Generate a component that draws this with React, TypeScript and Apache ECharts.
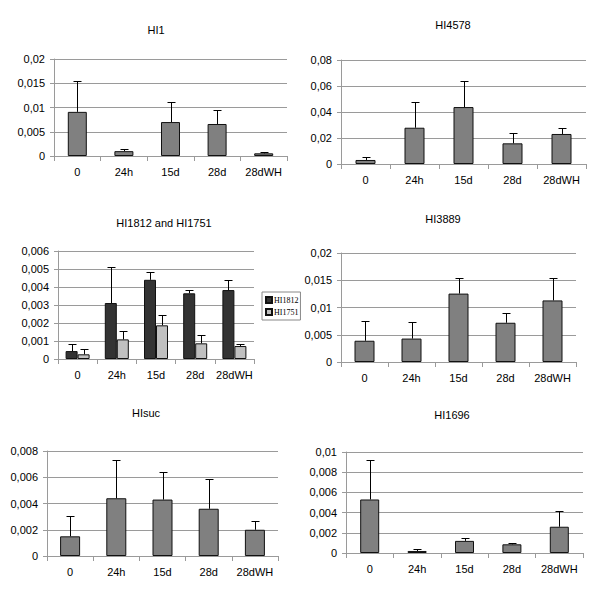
import React, { useEffect, useRef } from 'react';
import * as echarts from 'echarts';

const categories = ['0', '24h', '15d', '28d', '28dWH'];

const hi1Values = [0.0091, 0.001, 0.007, 0.0066, 0.00055];
const hi1Sd = [0.0063, 0.0004, 0.0041, 0.0028, 0.0002];

const hi4578Values = [0.0031, 0.0279, 0.0438, 0.0159, 0.0231];
const hi4578Sd = [0.0025, 0.0201, 0.02, 0.0082, 0.0048];

const hi1812Values = [0.00044, 0.00311, 0.0044, 0.00365, 0.00383];
const hi1812Sd = [0.00037, 0.002, 0.00041, 0.0002, 0.00056];
const hi1751Values = [0.00026, 0.00109, 0.00187, 0.00087, 0.00072];
const hi1751Sd = [0.0003, 0.00047, 0.00056, 0.00048, 0.00009];

const hi3889Values = [0.0039, 0.0043, 0.01255, 0.0072, 0.0113];
const hi3889Sd = [0.0037, 0.003, 0.0029, 0.0018, 0.0041];

const hisucValues = [0.0015, 0.0044, 0.0043, 0.0036, 0.002];
const hisucSd = [0.00155, 0.0029, 0.0021, 0.0023, 0.00065];

const hi1696Values = [0.0053, 0.0002, 0.0012, 0.00086, 0.0026];
const hi1696Sd = [0.0039, 0.00016, 0.0003, 0.00014, 0.0016];

const fmt = (v: number) => String(Number(v.toPrecision(6))).replace('.', ',');

const FONT = 'Liberation Sans';
const GRID_COLOR = '#9a9a9a';

export default function App() {
  const ref = useRef<HTMLDivElement>(null);
  useEffect(() => {
    const chart = echarts.init(ref.current!, null, { renderer: 'svg' });
    const panels = [
      {
        title: 'HI1', cx: 151, ty: 19,
        grid: { left: 54, top: 59, width: 233, height: 97 },
        max: 0.02, interval: 0.005, barWidth: 19,
        series: [{ name: 'HI1', values: hi1Values, sd: hi1Sd, color: '#808080' }],
      },
      {
        title: 'HI4578', cx: 448, ty: 14,
        grid: { left: 341, top: 60, width: 245, height: 104 },
        max: 0.08, interval: 0.02, barWidth: 20,
        series: [{ name: 'HI4578', values: hi4578Values, sd: hi4578Sd, color: '#808080' }],
      },
      {
        title: 'HI1812 and HI1751', cx: 159, ty: 212,
        grid: { left: 58, top: 251, width: 196, height: 108 },
        max: 0.006, interval: 0.001, barWidth: 12,
        series: [
          { name: 'HI1812', values: hi1812Values, sd: hi1812Sd, color: '#333333' },
          { name: 'HI1751', values: hi1751Values, sd: hi1751Sd, color: '#c0c0c0' },
        ],
      },
      {
        title: 'HI3889', cx: 438, ty: 208,
        grid: { left: 341, top: 253, width: 235, height: 109 },
        max: 0.02, interval: 0.005, barWidth: 20,
        series: [{ name: 'HI3889', values: hi3889Values, sd: hi3889Sd, color: '#808080' }],
      },
      {
        title: 'HIsuc', cx: 141, ty: 402,
        grid: { left: 47, top: 451, width: 231, height: 105 },
        max: 0.008, interval: 0.002, barWidth: 20,
        series: [{ name: 'HIsuc', values: hisucValues, sd: hisucSd, color: '#808080' }],
      },
      {
        title: 'HI1696', cx: 447, ty: 404,
        grid: { left: 346, top: 452, width: 237, height: 101 },
        max: 0.01, interval: 0.002, barWidth: 19,
        series: [{ name: 'HI1696', values: hi1696Values, sd: hi1696Sd, color: '#808080' }],
      },
    ];

    const titles: any[] = [];
    const grids: any[] = [];
    const xAxes: any[] = [];
    const yAxes: any[] = [];
    const series: any[] = [];

    panels.forEach((p, i) => {
      titles.push({
        text: p.title, left: p.cx, top: p.ty, textAlign: 'center',
        textStyle: { fontFamily: FONT, fontSize: 11, fontWeight: 'normal', color: '#000' },
      });
      grids.push({ ...p.grid, containLabel: false });
      xAxes.push({
        type: 'category', gridIndex: i, data: categories,
        axisLine: { show: true, lineStyle: { color: GRID_COLOR } },
        axisTick: { show: true, alignWithLabel: false, interval: 0, length: 5, lineStyle: { color: GRID_COLOR } },
        axisLabel: { interval: 0, color: '#000', fontFamily: FONT, fontSize: 11, margin: 10 },
      });
      yAxes.push({
        type: 'value', gridIndex: i, min: 0, max: p.max, interval: p.interval,
        axisLine: { show: true, lineStyle: { color: GRID_COLOR } },
        axisTick: { show: true, length: 4, lineStyle: { color: GRID_COLOR } },
        splitLine: { show: true, lineStyle: { color: GRID_COLOR, width: 1 } },
        axisLabel: { color: '#000', fontFamily: FONT, fontSize: 11, margin: 9, formatter: fmt },
      });
      const n = p.series.length;
      p.series.forEach((s) => {
        series.push({
          type: 'bar', name: s.name, xAxisIndex: i, yAxisIndex: i,
          data: s.values, barWidth: p.barWidth, barGap: '0%',
          itemStyle: { color: s.color, borderColor: '#111', borderWidth: 1 },
          z: 2,
        });
      });
      p.series.forEach((s, k) => {
        const off = (k - (n - 1) / 2) * p.barWidth;
        series.push({
          type: 'custom', name: s.name + ' error', xAxisIndex: i, yAxisIndex: i,
          data: s.values.map((v, j) => [j, v, s.sd[j]]),
          encode: { x: 0, y: 1 },
          z: 5,
          renderItem: (params: any, api: any) => {
            const idx = api.value(0);
            const v = api.value(1);
            const sd = api.value(2);
            const base = api.coord([idx, v]);
            const top = api.coord([idx, v + sd]);
            const x = Math.round(base[0] + off) + 0.5;
            const yt = Math.round(top[1]) + 0.5;
            return {
              type: 'group',
              children: [
                { type: 'line', shape: { x1: x, y1: base[1], x2: x, y2: yt }, style: { stroke: '#000', lineWidth: 1 } },
                { type: 'line', shape: { x1: x - 4, y1: yt, x2: x + 4, y2: yt }, style: { stroke: '#000', lineWidth: 1 } },
              ],
            };
          },
        });
      });
    });

    chart.setOption({
      animation: false,
      backgroundColor: '#fff',
      title: titles,
      grid: grids,
      xAxis: xAxes,
      yAxis: yAxes,
      legend: {
        data: ['HI1812', 'HI1751'],
        orient: 'vertical', left: 262, top: 292,
        icon: 'rect', itemWidth: 6, itemHeight: 6, itemGap: 4,
        padding: [4, 2, 4, 3],
        borderColor: '#888', borderWidth: 1,
        textStyle: { fontFamily: 'Liberation Serif', fontSize: 8, color: '#000', padding: [0, 0, 0, -3] },
      },
      series,
    });
    return () => chart.dispose();
  }, []);
  return (
    <div
      ref={ref}
      style={{ position: 'fixed', left: 0, top: 0, width: 600, height: 600, background: '#fff' }}
    />
  );
}
